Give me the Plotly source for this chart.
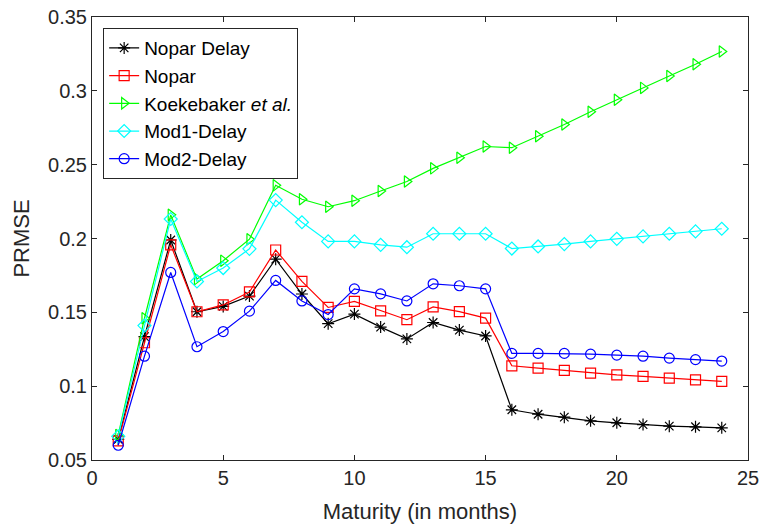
import plotly.graph_objects as go

maturity = list(range(1, 25))

nopar_delay = [0.064, 0.1335, 0.199, 0.1504, 0.154, 0.161, 0.186, 0.1624, 0.1423, 0.1488,
               0.140, 0.132, 0.1431, 0.138, 0.134, 0.0840, 0.081, 0.079, 0.0765, 0.0752,
               0.074, 0.0729, 0.0725, 0.0718]
nopar = [0.063, 0.1294, 0.1957, 0.1504, 0.155, 0.1638, 0.1922, 0.171, 0.1533, 0.1574,
         0.151, 0.145, 0.1537, 0.1505, 0.1461, 0.1138, 0.1122, 0.1107, 0.1088, 0.1077,
         0.1066, 0.1054, 0.1043, 0.1032]
koekebaker = [0.067, 0.146, 0.216, 0.1725, 0.185, 0.1995, 0.236, 0.2266, 0.2215, 0.2256,
              0.2322, 0.2386, 0.2475, 0.2547, 0.2623, 0.2615, 0.2693, 0.2772, 0.2858, 0.294,
              0.302, 0.310, 0.318, 0.3266]
mod1_delay = [0.066, 0.141, 0.2132, 0.1709, 0.180, 0.193, 0.226, 0.211, 0.198, 0.198,
              0.1957, 0.1941, 0.2032, 0.2032, 0.2032, 0.1932, 0.1946, 0.1962, 0.198, 0.1998,
              0.2014, 0.2032, 0.2048, 0.2066]
mod2_delay = [0.060, 0.1203, 0.177, 0.1267, 0.137, 0.1508, 0.1716, 0.1577, 0.1485, 0.1659,
              0.1625, 0.1577, 0.1693, 0.168, 0.1659, 0.1222, 0.1222, 0.1222, 0.1217, 0.121,
              0.1203, 0.119, 0.118, 0.117]

x_ticks = [0, 5, 10, 15, 20, 25]
y_ticks = [0.05, 0.1, 0.15, 0.2, 0.25, 0.3, 0.35]
y_ticklabels = ["0.05", "0.1", "0.15", "0.2", "0.25", "0.3", "0.35"]

series = [
    ("Nopar Delay", nopar_delay, "#000000", "asterisk-open"),
    ("Nopar", nopar, "#FF0000", "square-open"),
    ("Koekebaker <i>et al.</i>", koekebaker, "#00FF00", "triangle-right-open"),
    ("Mod1-Delay", mod1_delay, "#00FFFF", "diamond-open"),
    ("Mod2-Delay", mod2_delay, "#0000FF", "circle-open"),
]

fig = go.Figure()
for name, ys, color, sym in series:
    fig.add_trace(go.Scatter(
        x=maturity, y=ys, name=name, mode="lines+markers",
        line=dict(color=color, width=1.2),
        marker=dict(symbol=sym, size=10, color=color, line=dict(color=color, width=1.2)),
    ))

FONT = "Liberation Sans, Arial"
axis_common = dict(
    showgrid=False, zeroline=False, showline=True, mirror="ticks",
    linecolor="#262626", linewidth=1, ticks="inside", ticklen=5,
    tickcolor="#262626", ticklabeloverflow="allow", automargin=False,
    tickfont=dict(family=FONT, size=20, color="#262626"),
)

fig.update_layout(
    width=761, height=527,
    margin=dict(l=92, r=13, t=17, b=67, autoexpand=False),
    paper_bgcolor="white", plot_bgcolor="white",
    font=dict(family=FONT, color="#262626"),
    xaxis=dict(range=[0, 25], tickvals=x_ticks,
               title=dict(text="Maturity (in months)", font=dict(size=22), standoff=15),
               **axis_common),
    yaxis=dict(range=[0.05, 0.35], tickvals=y_ticks, ticktext=y_ticklabels,
               title=dict(text="PRMSE", font=dict(size=22), standoff=12),
               **axis_common),
    legend=dict(x=0.017, y=0.975, xanchor="left", yanchor="top",
                bordercolor="#262626", borderwidth=1, bgcolor="white",
                font=dict(family=FONT, size=19, color="#000000"),
                tracegroupgap=0, itemwidth=30),
)

fig.write_html("out.html", config={"displayModeBar": False},
               post_script="document.body.style.margin='0';document.body.style.overflow='hidden';")
